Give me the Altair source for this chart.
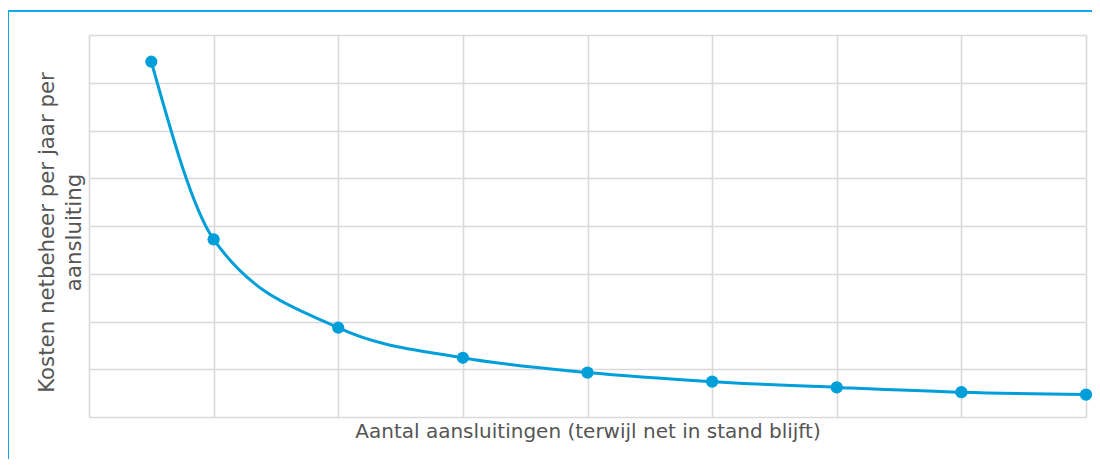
import altair as alt
import pandas as pd

# Data
aansluitingen = [0.5, 1, 2, 3, 4, 5, 6, 7, 8]
kosten = [7.44, 3.72, 1.87, 1.24, 0.93, 0.74, 0.62, 0.52, 0.47]
grid_ticks = [0, 1, 2, 3, 4, 5, 6, 7, 8]

x_title = "Aantal aansluitingen (terwijl net in stand blijft)"
y_title = ["Kosten netbeheer per jaar per", "aansluiting"]

df = pd.DataFrame({"x": aansluitingen, "y": kosten})

BLUE = "#009fda"
FONT = "DejaVu Sans"

x_enc = alt.X(
    "x:Q",
    scale=alt.Scale(domain=[0, 8], nice=False, zero=False),
    axis=alt.Axis(
        values=grid_ticks, labels=False, ticks=False, domain=False,
        grid=True, title=x_title, titlePadding=4, titleFontSize=20,
    ),
)
y_enc = alt.Y(
    "y:Q",
    scale=alt.Scale(domain=[0, 8], nice=False),
    axis=alt.Axis(
        values=grid_ticks, labels=False, ticks=False, domain=False,
        grid=True, title=y_title, titlePadding=5, titleFontSize=21.3,
        titleY=197, titleLineHeight=27,
    ),
)

line = alt.Chart(df).mark_line(
    interpolate="monotone", color=BLUE, strokeWidth=3
).encode(x=x_enc, y=y_enc)

points = alt.Chart(df).mark_circle(
    color=BLUE, size=150, opacity=1
).encode(x="x:Q", y="y:Q")

# decorative frame (left and top edges)
frame_left = alt.Chart(df).mark_rule(color="#11a8e6", strokeWidth=1.6).encode(
    x=alt.value(-81), y=alt.value(-24), y2=alt.value(460)
)
frame_top = alt.Chart(df).mark_rule(color="#11a8e6", strokeWidth=1.6).encode(
    x=alt.value(-81), x2=alt.value(1100), y=alt.value(-24)
)

chart = (
    alt.layer(line, points, frame_left, frame_top)
    .properties(
        width=997, height=382,
        background="white",
        autosize=alt.AutoSizeParams(type="none"),
        padding={"left": 81, "top": 27, "right": 6, "bottom": 42},
    )
    .configure_view(stroke=None)
    .configure_axis(
        gridColor="#d9d9d9", gridWidth=1.6,
        titleFont=FONT, titleFontWeight="normal",
        titleColor="#555555",
    )
)

chart.save("out.html", embed_options={"renderer": "svg", "actions": False})
